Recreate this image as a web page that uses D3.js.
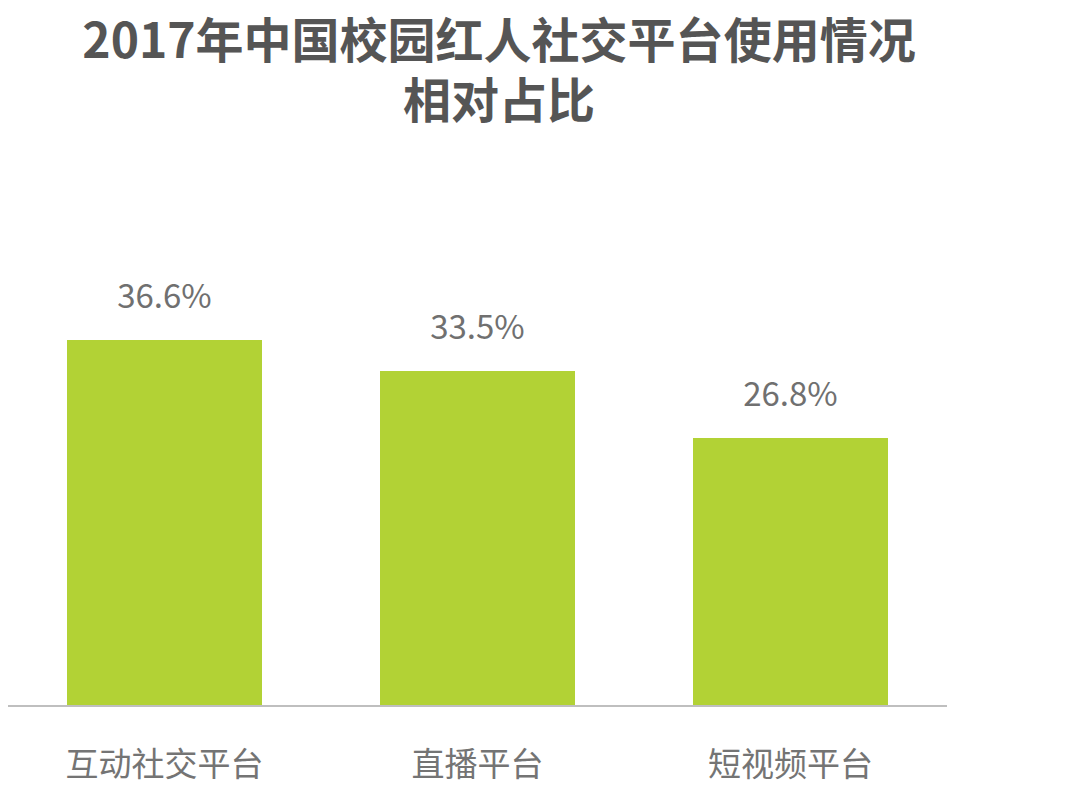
<!DOCTYPE html>
<html><head><meta charset="utf-8">
<script src="https://cdn.jsdelivr.net/npm/d3@7"></script>
<style>body{margin:0;background:#fff;} svg{display:block;}</style>
</head><body>
<svg id="chart" width="1080" height="791"></svg>
<script>
const titleLines = ["2017年中国校园红人社交平台使用情况", "相对占比"];
const categories = ["互动社交平台", "直播平台", "短视频平台"];
const values = [36.6, 33.5, 26.8];

const svg = d3.select("#chart");
const font = "'Noto Sans CJK SC','Noto Sans',sans-serif";
const baseY = 706;

const x = d3.scaleBand().domain(categories).range([8, 947]).paddingInner(0.377).paddingOuter(0.1885);
const y = d3.scaleLinear().domain([0, 50]).range([baseY, baseY - 500]);

svg.selectAll("text.title").data(titleLines).join("text")
  .attr("class", "title")
  .attr("x", 499).attr("y", (d, i) => 58 + i * 60)
  .attr("text-anchor", "middle")
  .attr("font-family", font).attr("font-weight", "bold").attr("font-size", 48)
  .attr("fill", "#555555").text(d => d);

svg.selectAll("rect.bar").data(values).join("rect")
  .attr("class", "bar")
  .attr("x", (d, i) => x(categories[i]))
  .attr("y", d => y(d))
  .attr("width", x.bandwidth())
  .attr("height", d => baseY - y(d))
  .attr("fill", "#b2d235");

svg.selectAll("text.val").data(values).join("text")
  .attr("class", "val")
  .attr("x", (d, i) => x(categories[i]) + x.bandwidth() / 2)
  .attr("y", d => y(d) - 32)
  .attr("text-anchor", "middle")
  .attr("font-family", font).attr("font-size", 33)
  .attr("fill", "#707070").text(d => d.toFixed(1) + "%");

const axis = d3.axisBottom(x).tickSize(0).tickPadding(0);
const g = svg.append("g").attr("transform", `translate(0,${baseY})`).call(axis);
g.select(".domain").attr("d", "M8,0H947").attr("stroke", "#bfbfbf").attr("stroke-width", 2);
g.selectAll(".tick text")
  .attr("y", 70).attr("dy", 0)
  .attr("font-family", font).attr("font-size", 33)
  .attr("fill", "#747474");
</script>
</body></html>
